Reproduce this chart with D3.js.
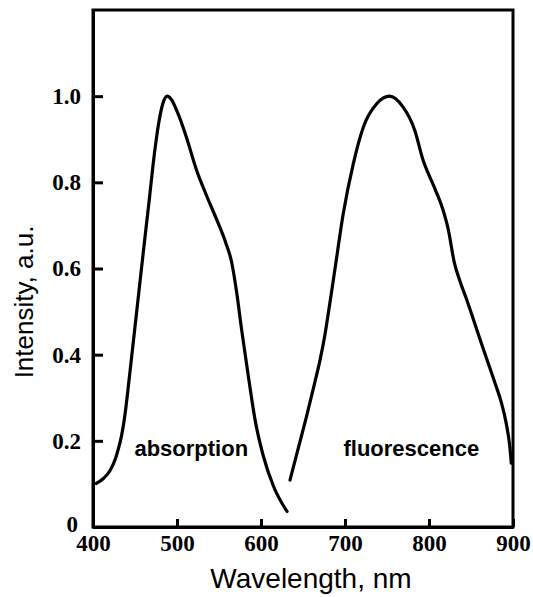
<!DOCTYPE html>
<html>
<head>
<meta charset="utf-8">
<script src="https://cdn.jsdelivr.net/npm/d3@7"></script>
<style>
  body { margin: 0; background: #fff; }
  .tick text { font-family: "Liberation Serif", "DejaVu Serif", serif; font-weight: bold; font-size: 23px; fill: #000; }
</style>
</head>
<body>
<svg id="chart"></svg>
<script>
// absorption spectrum
var absWavelength = [404, 412, 420, 427, 430, 434, 438, 444, 452, 460, 467, 473, 478, 483, 488.5, 494, 500, 511, 523, 535, 548, 558, 565, 571, 577, 585, 593, 603, 615, 631];
var absIntensity  = [0.101, 0.112, 0.13, 0.16, 0.18, 0.212, 0.26, 0.36, 0.5, 0.64, 0.76, 0.865, 0.935, 0.982, 1.0, 0.99, 0.965, 0.906, 0.83, 0.77, 0.71, 0.66, 0.615, 0.545, 0.457, 0.349, 0.248, 0.163, 0.094, 0.036];
// fluorescence spectrum
var fluWavelength = [634.5, 644, 654, 664, 670, 676, 682, 688, 698, 710, 722, 738, 753, 769, 783, 793, 806, 816, 823, 830, 837, 845, 861, 880, 886, 892, 896, 898];
var fluIntensity  = [0.109, 0.18, 0.255, 0.335, 0.385, 0.445, 0.52, 0.598, 0.728, 0.844, 0.929, 0.983, 1.0, 0.975, 0.921, 0.851, 0.79, 0.74, 0.69, 0.615, 0.57, 0.527, 0.434, 0.326, 0.29, 0.24, 0.19, 0.148];

var xTicks = [400, 500, 600, 700, 800, 900];
var yTicks = [0, 0.2, 0.4, 0.6, 0.8, 1.0];
var yTickLabels = ["0", "0.2", "0.4", "0.6", "0.8", "1.0"];

var padding = {left: 93, right: 20, top: 10, bottom: 70};
var width = 533, height = 597;
var chartArea = {
  width: width - padding.left - padding.right,
  height: height - padding.top - padding.bottom
};

var svg = d3.select('#chart').attr('width', width).attr('height', height);

var xScale = d3.scaleLinear().domain([400, 900]).range([0, chartArea.width]);
var yScale = d3.scaleLinear().domain([0, 1.2]).range([chartArea.height, 0]);

var g = svg.append('g').attr('transform', 'translate(' + padding.left + ',' + padding.top + ')');

// frame
g.append('rect')
  .attr('x', 0).attr('y', 0)
  .attr('width', chartArea.width).attr('height', chartArea.height)
  .attr('fill', 'none').attr('stroke', '#000').attr('stroke-width', 3);

var yAxis = g.append('g').attr('class', 'y-axis')
  .call(d3.axisLeft(yScale)
    .tickValues(yTicks)
    .tickFormat(function(d, i) { return yTickLabels[i]; })
    .tickSizeInner(-10).tickSizeOuter(0).tickPadding(12));

var xAxis = g.append('g').attr('class', 'x-axis')
  .attr('transform', 'translate(0,' + chartArea.height + ')')
  .call(d3.axisBottom(xScale)
    .tickValues(xTicks)
    .tickFormat(d3.format('d'))
    .tickSizeInner(-8).tickSizeOuter(0).tickPadding(8));

g.selectAll('.domain').attr('stroke', '#000').attr('stroke-width', 3);
g.selectAll('.tick line').attr('stroke', '#000').attr('stroke-width', 3);
// the "0" label sits a bit left of the others and just above the 400 label
yAxis.selectAll('.tick text').filter(function(d) { return d === 0; })
  .attr('x', -15).attr('dy', '0.2em');

var line = d3.line()
  .x(function(d) { return xScale(d[0]); })
  .y(function(d) { return yScale(d[1]); })
  .curve(d3.curveMonotoneX);

var absData = absWavelength.map(function(w, i) { return [w, absIntensity[i]]; });
var fluData = fluWavelength.map(function(w, i) { return [w, fluIntensity[i]]; });

[absData, fluData].forEach(function(data) {
  g.append('path').datum(data)
    .attr('fill', 'none')
    .attr('stroke', '#000')
    .attr('stroke-width', 3.2)
    .attr('stroke-linejoin', 'round')
    .attr('stroke-linecap', 'round')
    .attr('d', line);
});

// curve labels
g.append('text').attr('x', xScale(517)).attr('y', yScale(0.165))
  .attr('text-anchor', 'middle')
  .style('font-family', '"Liberation Sans", Arial, sans-serif')
  .style('font-weight', 'bold').style('font-size', '22px')
  .text('absorption');
g.append('text').attr('x', xScale(779)).attr('y', yScale(0.165))
  .attr('text-anchor', 'middle')
  .style('font-family', '"Liberation Sans", Arial, sans-serif')
  .style('font-weight', 'bold').style('font-size', '22px')
  .text('fluorescence');

// axis titles
svg.append('text')
  .attr('x', 311).attr('y', 588)
  .attr('text-anchor', 'middle')
  .style('font-family', '"Liberation Sans", Arial, sans-serif')
  .style('font-size', '28px')
  .text('Wavelength, nm');
svg.append('text')
  .attr('transform', 'translate(33,302) rotate(-90)')
  .attr('text-anchor', 'middle')
  .style('font-family', '"Liberation Sans", Arial, sans-serif')
  .style('font-size', '26px')
  .text('Intensity, a.u.');
</script>
</body>
</html>
